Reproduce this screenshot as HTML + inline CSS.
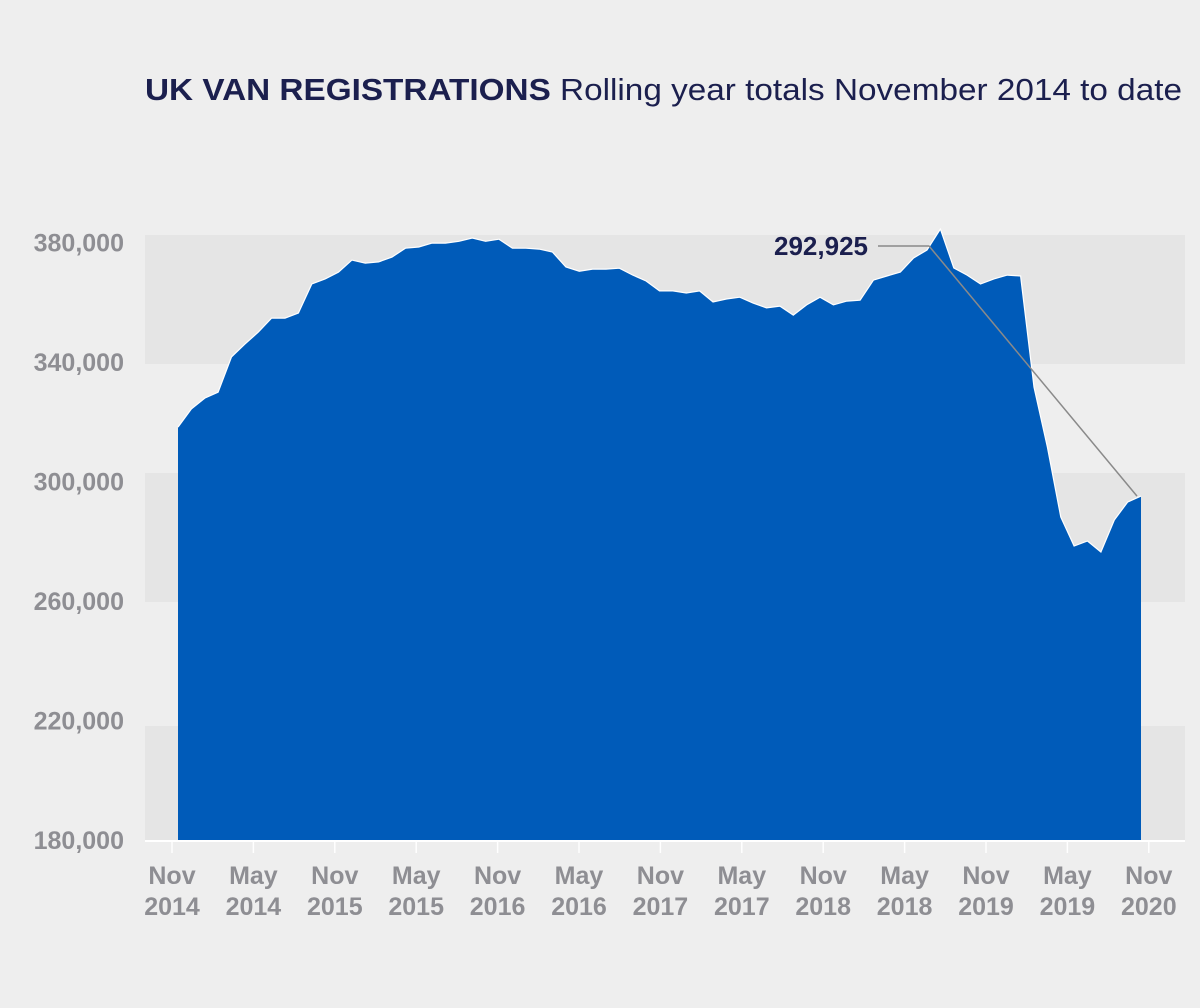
<!DOCTYPE html>
<html><head><meta charset="utf-8"><style>
html,body{margin:0;padding:0;background:#eeeeee;}
svg{display:block;font-family:"Liberation Sans",sans-serif;}
</style></head><body>
<svg id="chart" width="1200" height="1008" viewBox="0 0 1200 1008" xmlns="http://www.w3.org/2000/svg">
<rect width="1200" height="1008" fill="#eeeeee"/>
<text x="145" y="100" font-size="31" fill="#1b1f4e" textLength="1037" lengthAdjust="spacingAndGlyphs"><tspan font-weight="bold">UK VAN REGISTRATIONS</tspan> Rolling year totals November 2014 to date</text>
<g id="bands"></g>
<g id="area"></g>
<g id="axes"></g>
<g id="annot"></g>
</svg>
<script>
const yTickValues=[380,340,300,260,220,180];
const yTickLabels=["380,000","340,000","300,000","260,000","220,000","180,000"];
const xTickLabelsTop=["Nov","May","Nov","May","Nov","May","Nov","May","Nov","May","Nov","May","Nov"];
const xTickLabelsBottom=["2014","2014","2015","2015","2016","2016","2017","2017","2018","2018","2019","2019","2020"];
const values=[318.2,324.3,327.9,329.9,341.7,346.0,350.0,354.7,354.7,356.4,366.1,367.8,370.1,374.1,373.1,373.5,375.1,378.1,378.5,379.8,379.8,380.4,381.5,380.4,381.1,378.1,378.1,377.8,376.8,371.8,370.4,371.1,371.1,371.4,369.1,367.1,363.8,
363.8,363.1,363.8,360.1,361.1,361.7,359.7,358.1,358.7,355.7,359.1,361.7,359.1,360.4,360.7,367.4,368.8,370.1,374.8,377.5,384.5,371.5,369.1,366.1,367.8,369.1,368.8,331.6,311.5,288.1,278.4,280.1,276.4,287.1,293.1,295.1];
const annotationLabel="292,925";
const annotationPeakIndex=56;

const NS="http://www.w3.org/2000/svg";
function y(v){return 840-(v-180)*119.5/40;}
function x(i){return 178+i*13.375;}
function xTick(k){return 172+k*81.4;}
function mk(tag,attrs,parent){const e=document.createElementNS(NS,tag);for(const k in attrs)e.setAttribute(k,attrs[k]);parent.appendChild(e);return e;}

const bands=document.getElementById('bands');
[[235,364],[473,602],[726,840]].forEach((b,i)=>{
 const r=mk('rect',{x:145,y:b[0],width:1040,height:b[1]-b[0],fill:'#e5e5e5'},bands);
 
 
});

const area=document.getElementById('area');
let d='M'+x(0)+','+y(180);
values.forEach((v,i)=>{d+=' L'+x(i).toFixed(1)+','+y(v).toFixed(1);});
d+=' L'+x(values.length-1)+','+y(180)+' Z';
const p=mk('path',{d:d,fill:'#005bb9'},area);


let ld='';
values.forEach((v,i)=>{ld+=(i?' L':'M')+x(i).toFixed(1)+','+y(v).toFixed(1);});
const ln=mk('path',{d:ld,fill:'none',stroke:'#ffffff','stroke-width':1.2},area);



const axes=document.getElementById('axes');
const al=mk('line',{x1:145,x2:1185,y1:841,y2:841,stroke:'#ffffff','stroke-width':2},axes);


yTickValues.forEach((v,i)=>{
 const t=mk('text',{x:124,y:y(v)+9,'text-anchor':'end','font-size':25,'font-weight':'bold',fill:'#8e8e93'},axes);
 t.textContent=yTickLabels[i];
 
 
});
xTickLabelsTop.forEach((lab,k)=>{
 const tk=mk('line',{x1:xTick(k),x2:xTick(k),y1:841,y2:853,stroke:'#ffffff','stroke-width':1.5},axes);
 
 
 const t1=mk('text',{x:xTick(k),y:884,'text-anchor':'middle','font-size':25,'font-weight':'bold',fill:'#8e8e93'},axes);
 t1.textContent=lab;
 
 
 const t2=mk('text',{x:xTick(k),y:915,'text-anchor':'middle','font-size':25,'font-weight':'bold',fill:'#8e8e93'},axes);
 t2.textContent=xTickLabelsBottom[k];
 
 
});

const an=document.getElementById('annot');
const lastI=values.length-1;
const ay=246;
const apl=mk('polyline',{points:`878,${ay} ${x(annotationPeakIndex)+2},${ay} ${x(lastI)-4},${y(values[lastI])}`,fill:'none',stroke:'#8a8a8a','stroke-width':1.5},an);


const at=mk('text',{x:868,y:ay+9,'text-anchor':'end','font-size':26,'font-weight':'bold',fill:'#1b1f4e'},an);
at.textContent=annotationLabel;


</script>
</body></html>
